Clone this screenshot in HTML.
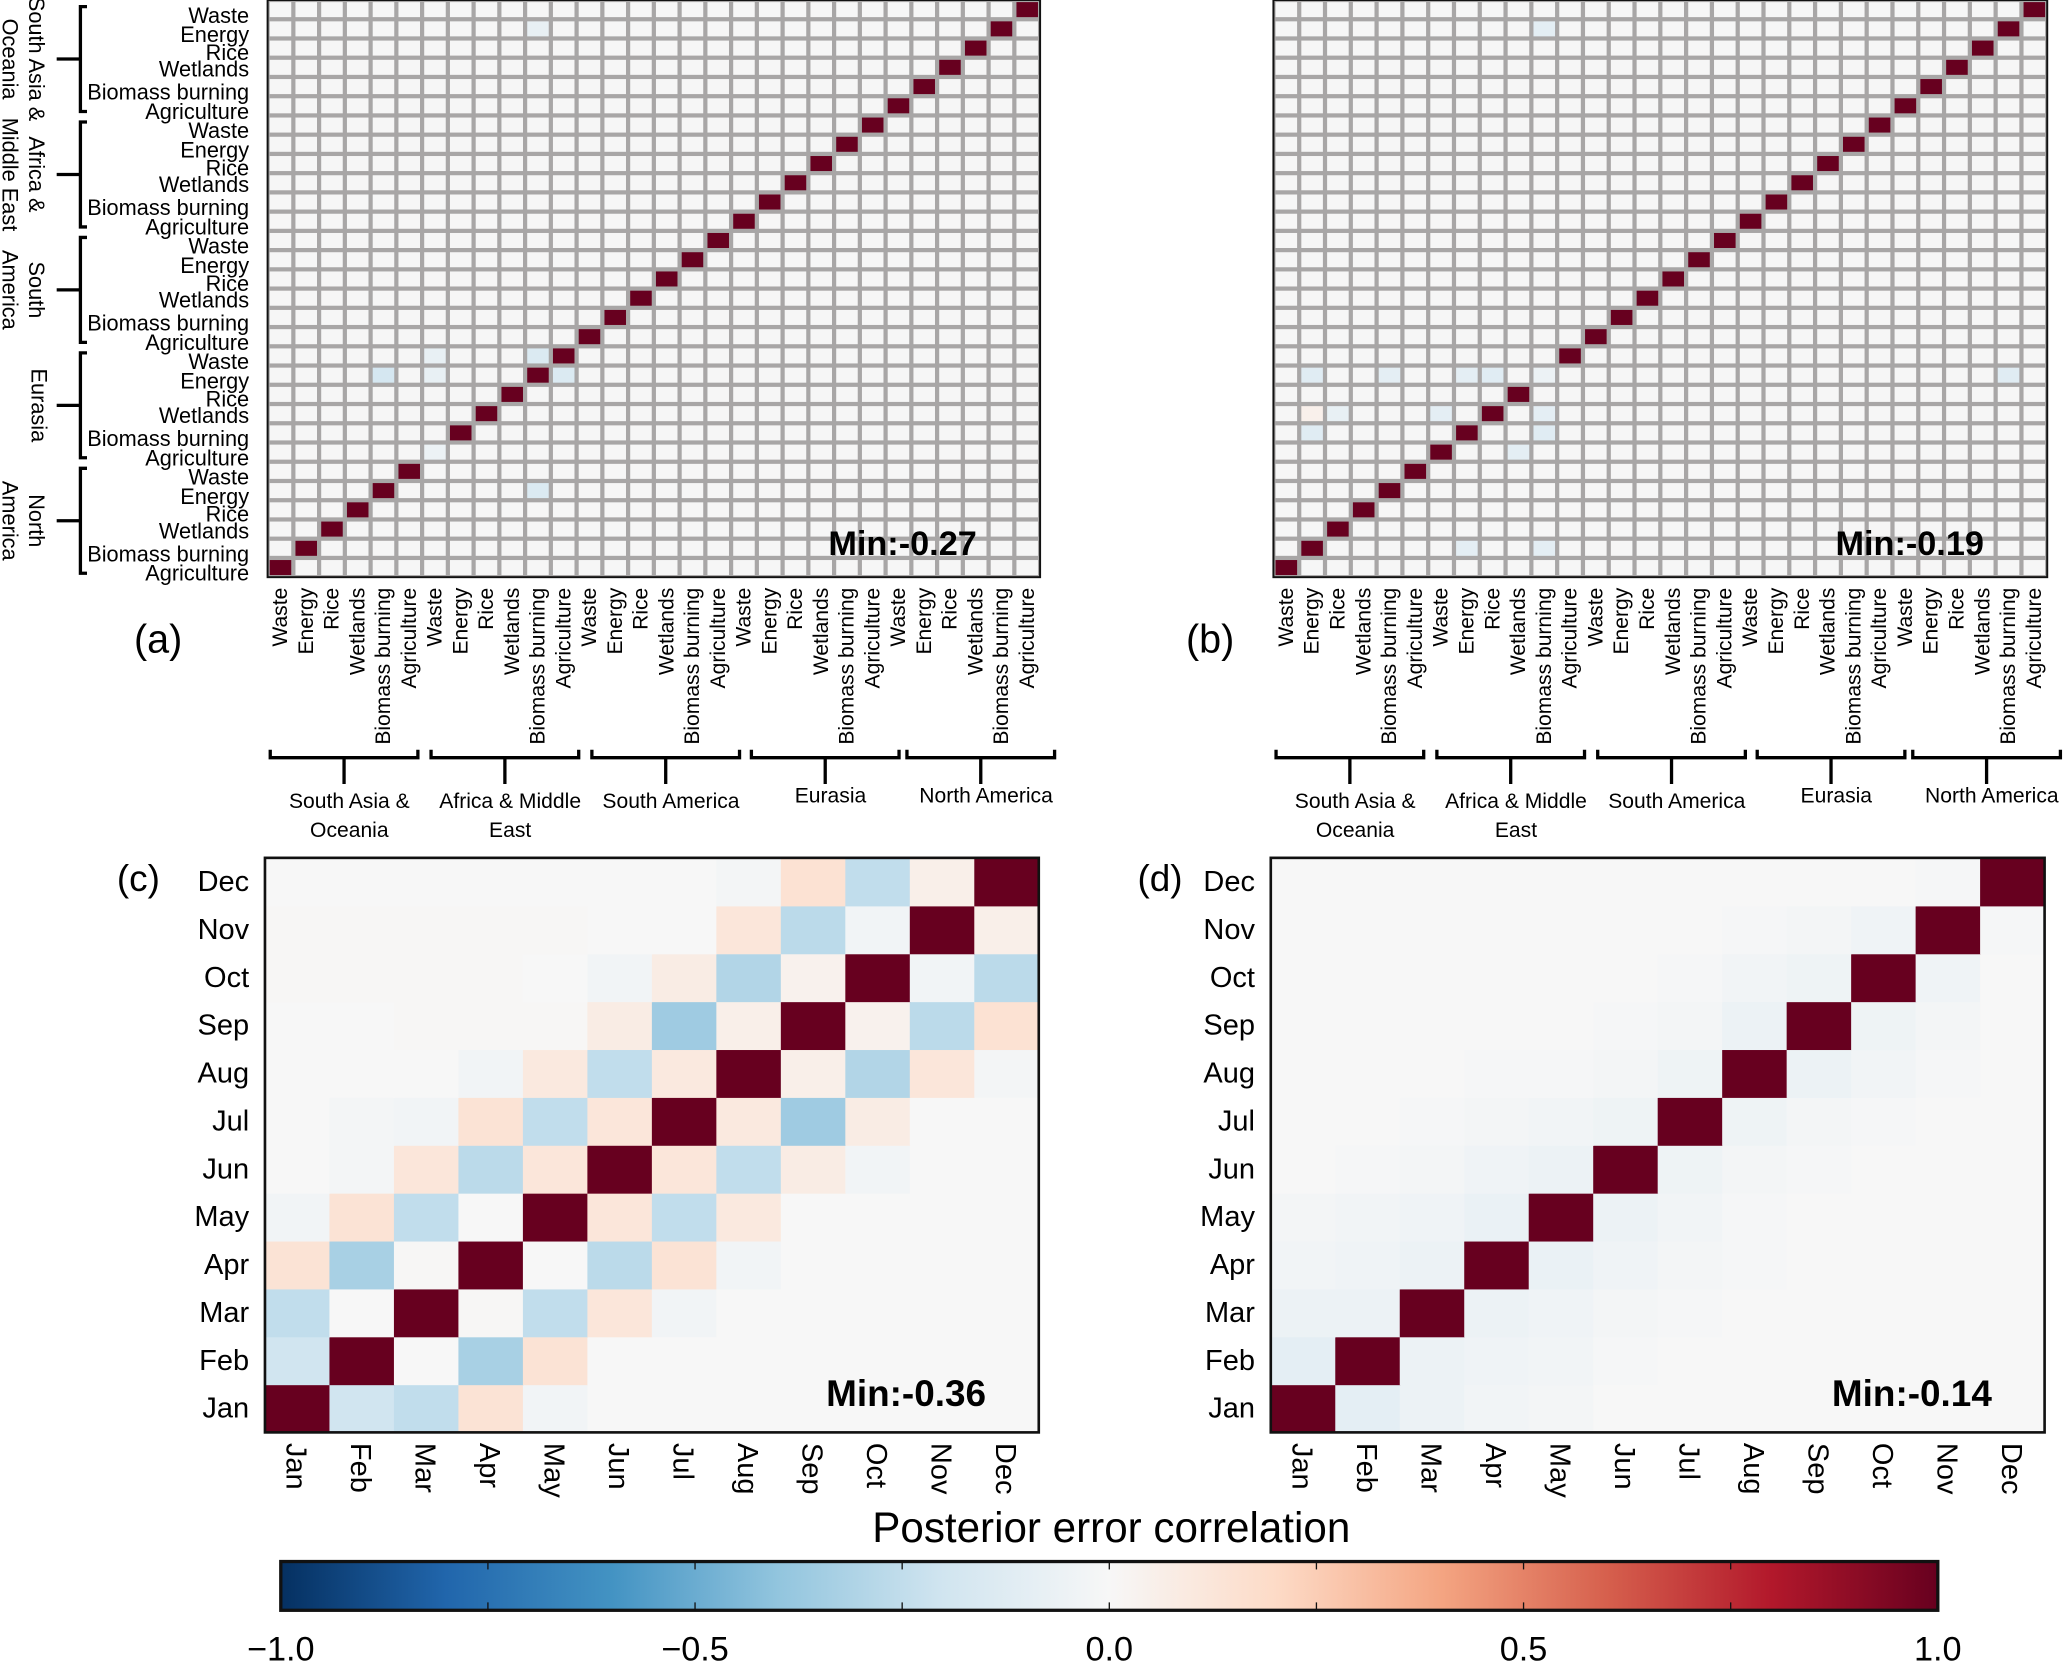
<!DOCTYPE html>
<html><head><meta charset="utf-8">
<style>
html,body{margin:0;padding:0;background:#fff;}
svg{display:block;}
text{font-family:"Liberation Sans",sans-serif;}
</style></head>
<body>
<svg id="fig" width="2067" height="1663" viewBox="0 0 1568 1262" preserveAspectRatio="none" xmlns="http://www.w3.org/2000/svg"></svg>
<script>
// ---- data ----
const sectors = ["Waste","Energy","Rice","Wetlands","Biomass burning","Agriculture"];
const regionsTopDown = ["South Asia & Oceania","Africa & Middle East","South America","Eurasia","North America"];
const months = ["Jan","Feb","Mar","Apr","May","Jun","Jul","Aug","Sep","Oct","Nov","Dec"];
// panel a/b off-diagonal entries (row from top, column from left, value)
const aRows = [18,18,19,19,19,25,1,23];
const aCols = [10,6,4,6,11,10,10,6];
const aVals = [-0.15,-0.08,-0.18,-0.08,-0.15,-0.15,-0.08,-0.06];
const bRows = [19,19,19,19,19,21,21,21,21,22,22,23,28,28,1,19];
const bCols = [1,4,7,8,28,1,2,6,10,1,10,9,7,10,10,10];
const bVals = [-0.12,-0.1,-0.1,-0.12,-0.12,0.05,-0.08,-0.1,-0.1,-0.12,-0.12,-0.1,-0.1,-0.1,-0.1,-0.06];
const aMin = "Min:-0.27", bMin = "Min:-0.19", cMin = "Min:-0.36", dMin = "Min:-0.14";
// panel c: rows Jan..Dec (y), columns Jan..Dec (x)
const cJan = [1,-0.2,-0.25,0.14,-0.03,0,0,0,0,0,0,0];
const cFeb = [-0.2,1,0,-0.33,0.14,0,0,0,0,0,0,0];
const cMar = [-0.25,0,1,0.01,-0.25,0.12,-0.03,0,0,0,0,0];
const cApr = [0.14,-0.33,0.01,1,0,-0.27,0.14,-0.03,0,0,0,0];
const cMay = [-0.03,0.14,-0.25,0,1,0.12,-0.25,0.1,0,0,0,0];
const cJun = [0,-0.02,0.12,-0.27,0.12,1,0.12,-0.25,0.08,-0.03,0,0];
const cJul = [0,-0.02,-0.03,0.14,-0.25,0.12,1,0.1,-0.36,0.08,0,0];
const cAug = [0,0,0,-0.03,0.1,-0.25,0.1,1,0.06,-0.3,0.12,-0.02];
const cSep = [0,0,0.01,0.01,0.01,0.08,-0.36,0.06,1,0.04,-0.27,0.15];
const cOct = [0.01,0.01,0.01,0.01,0,-0.03,0.08,-0.3,0.04,1,-0.03,-0.27];
const cNov = [0.01,0.01,0.01,0.01,0.01,0,0,0.12,-0.27,-0.03,1,0.06];
const cDec = [0,0,0,0,0,0,0,-0.02,0.15,-0.25,0.06,1];
const dJan = [1,-0.1,-0.06,-0.03,-0.02,0,0,0,0,0,0,0];
const dFeb = [-0.1,1,-0.06,-0.04,-0.03,-0.01,0,0,0,0,0,0];
const dMar = [-0.06,-0.06,1,-0.06,-0.04,-0.02,-0.01,0,0,0,0,0];
const dApr = [-0.03,-0.04,-0.06,1,-0.07,-0.04,-0.02,-0.01,0,0,0,0];
const dMay = [-0.02,-0.03,-0.04,-0.07,1,-0.06,-0.03,-0.01,0,0,0,0];
const dJun = [0,-0.01,-0.02,-0.04,-0.06,1,-0.05,-0.02,-0.01,0,0,0];
const dJul = [0,0,-0.01,-0.02,-0.03,-0.05,1,-0.05,-0.02,-0.01,0,0];
const dAug = [0,0,0,-0.01,-0.01,-0.02,-0.05,1,-0.06,-0.03,-0.01,0];
const dSep = [0,0,0,0,0,-0.01,-0.02,-0.06,1,-0.05,-0.02,0];
const dOct = [0,0,0,0,0,0,-0.01,-0.03,-0.05,1,-0.04,0];
const dNov = [0,0,0,0,0,0,0,-0.01,-0.02,-0.04,1,-0.01];
const dDec = [0,0,0,0,0,0,0,0,0,0,-0.01,1];
const cbTicks = [-1.0,-0.5,0.0,0.5,1.0];
const cbTickLabels = ["\u22121.0","\u22120.5","0.0","0.5","1.0"];

// ---- colormap RdBu_r ----
const stops=["#053061","#2166ac","#4393c3","#92c5de","#d1e5f0","#f7f7f7","#fddbc7","#f4a582","#d6604d","#b2182b","#67001f"];
function hx(c){return [1,3,5].map(i=>parseInt(c.substr(i,2),16));}
function cmap(v){v=Math.max(-1,Math.min(1,v));let t=(v+1)/2*10;let i=Math.min(9,Math.floor(t));let f=t-i;
const a=hx(stops[i]),b=hx(stops[i+1]);return "rgb("+a.map((x,k)=>Math.round(x+(b[k]-x)*f)).join(",")+")";}

const svg=document.getElementById('fig');
const NS="http://www.w3.org/2000/svg";
function el(tag,attrs,parent){const e=document.createElementNS(NS,tag);for(const k in attrs)e.setAttribute(k,attrs[k]);(parent||svg).appendChild(e);return e;}
function txt(s,attrs,parent){const t=el('text',attrs,parent);t.textContent=s;return t;}

// ---- grid panels a/b ----
function gridPanel(name,x0,y0,w,h,rows,cols,vals,minTxt){
  const g=el('g',{});
  
  
  const n=30,cw=w/n,ch=h/n;
  const xs=i=>x0+i*cw, ys=r=>y0+r*ch;
  el('rect',{x:x0,y:y0,width:w,height:h,fill:'#a8a6a6'},g);
  const M=[];for(let r=0;r<n;r++){M.push(new Array(n).fill(0));M[r][n-1-r]=1;}
  for(let k=0;k<rows.length;k++)M[rows[k]][cols[k]]=vals[k];
  for(let r=0;r<n;r++)for(let c=0;c<n;c++){
    const v=M[r][c];
    const cell=el('rect',{x:xs(c)+1.6,y:ys(r)+1.6,width:cw-3.2,height:ch-3.2,fill:v===0?'#f6f6f6':cmap(v)},g);
    
    
  }
  el('rect',{x:x0,y:y0,width:w,height:h,fill:'none',stroke:'#111',"stroke-width":1.5},g);
  const m=txt(minTxt,{x:x0+w-48,y:y0+h-17,"font-size":26,"font-weight":"bold","text-anchor":"end"},g);
  
  
  // column labels
  for(let c=0;c<n;c++){
    const s=sectors[c%6];
    const t=txt(s,{transform:`translate(${xs(c)+cw/2+5},${y0+h+8}) rotate(-90)`,"font-size":16,"text-anchor":"end"},g);
    
    
  }
  // bottom brackets
  const labelsAll=[["South Asia &","Oceania"],["Africa & Middle","East"],["South America"],["Eurasia"],["North America"]];
  const starts=[2,124,246,367,485];
  for(let k=0;k<5;k++){
    const bx0=x0+starts[k], bx1=bx0+112, by=y0+h+137, mid=(bx0+bx1)/2;
    const br=el('path',{d:`M${bx0},${by-6}L${bx0},${by}L${bx1},${by}L${bx1},${by-6}M${mid},${by}L${mid},${by+20}`,stroke:'#000',"stroke-width":2.5,fill:'none'},g);
    
    
    const labels=labelsAll[k];
    const ly = k>=3? y0+h+171 : y0+h+175;
    labels.forEach((l,j)=>{const t=txt(l,{x:mid+4,y:ly+j*22,"font-size":16,"text-anchor":"middle"},g);
      });
  }
  return {xs,ys,ch};
}
const pa=gridPanel('panel-a',203,0,586,438,aRows,aCols,aVals,aMin);
const pb=gridPanel('panel-b',966,0,587,438,bRows,bCols,bVals,bMin);
// row labels for a
for(let r=0;r<30;r++){
  const t=txt(sectors[r%6],{x:189,y:pa.ys(r)+pa.ch/2+10+(r%6===3?-3:0)+(r%6===2?-1:0),"font-size":16.5,"text-anchor":"end"});
  
  
}
// left region brackets
const leftLabels=[["South Asia &","Oceania"],["Africa &","Middle East"],["South","America"],["Eurasia"],["North","America"]];
for(let k=0;k<5;k++){
  const y1=pa.ys(k*6)+5,y2=pa.ys(k*6+6)-3,ym=(y1+y2)/2;
  const b=el('path',{d:`M66,${y1}L61,${y1}L61,${y2}L66,${y2}M61,${ym}L43,${ym}`,stroke:'#000',"stroke-width":2.5,fill:'none'});
  
  
  const L=leftLabels[k];
  L.forEach((l,j)=>{const xx=L.length===1?30:(j===0?28:8);
    const t=txt(l,{transform:`translate(${xx-6},${ym}) rotate(90)`,"font-size":16.5,"text-anchor":"middle"});
    });
}
[["(a)",120],["(b)",918]].forEach(([s,x])=>{const t=txt(s,{x:x,y:495,"font-size":30,"text-anchor":"middle"});
  });

// ---- month panels c/d ----
function monthPanel(name,x0,y0,w,h,rowsData,minTxt,tag,tagX){
  const g=el('g',{});
  
  
  const n=12,cw=w/n,ch=h/n;
  const xs=i=>x0+i*cw, ys=r=>y0+h-(r+1)*ch;
  for(let r=0;r<n;r++)for(let c=0;c<n;c++){
    const cell=el('rect',{x:xs(c),y:ys(r),width:cw+0.5,height:ch+0.5,fill:cmap(rowsData[r][c])},g);
    
    
  }
  el('rect',{x:x0,y:y0,width:w,height:h,fill:'none',stroke:'#111',"stroke-width":2},g);
  for(let i=0;i<n;i++){
    const t=txt(months[i],{x:x0-12,y:ys(i)+ch/2+7,"font-size":22,"text-anchor":"end"},g);
    
    const u=txt(months[i],{transform:`translate(${xs(i)+cw/2-8},${y0+h+8}) rotate(90)`,"font-size":22,"text-anchor":"start"},g);
    
  }
  const m=txt(minTxt,{x:x0+w-40,y:y0+h-20,"font-size":28,"font-weight":"bold","text-anchor":"end"},g);
  
  const p=txt(tag,{x:tagX,y:y0+25,"font-size":28,"text-anchor":"middle"},g);
  
}
monthPanel('panel-c',201,651,587,436,[cJan,cFeb,cMar,cApr,cMay,cJun,cJul,cAug,cSep,cOct,cNov,cDec],cMin,"(c)",105);
monthPanel('panel-d',964,651,587,436,[dJan,dFeb,dMar,dApr,dMay,dJun,dJul,dAug,dSep,dOct,dNov,dDec],dMin,"(d)",880);

// ---- colorbar ----
const cbX0=213,cbX1=1470,cbY=1185,cbH=37;
const cbx=v=>cbX0+(v+1)/2*(cbX1-cbX0);
const defs=el('defs',{});
const lg=el('linearGradient',{id:'cbg',x1:0,x2:1,y1:0,y2:0},defs);
stops.forEach((s,i)=>el('stop',{offset:(i/10),"stop-color":s},lg));
const cb=el('rect',{x:cbX0,y:cbY,width:cbX1-cbX0,height:cbH,fill:'url(#cbg)',stroke:'#111',"stroke-width":2.5});


for(let v=-0.75;v<1;v+=0.25){
  const x=cbx(v);
  el('line',{x1:x,x2:x,y1:cbY,y2:cbY+6,stroke:'#111',"stroke-width":1});
  el('line',{x1:x,x2:x,y1:cbY+cbH-6,y2:cbY+cbH,stroke:'#111',"stroke-width":1});
}
cbTicks.forEach((v,i)=>{const t=txt(cbTickLabels[i],{x:cbx(v),y:1260,"font-size":26,"text-anchor":"middle"});
  });
const ct=txt("Posterior error correlation",{x:843,y:1170,"font-size":32,"text-anchor":"middle"});


</script>
</body></html>
